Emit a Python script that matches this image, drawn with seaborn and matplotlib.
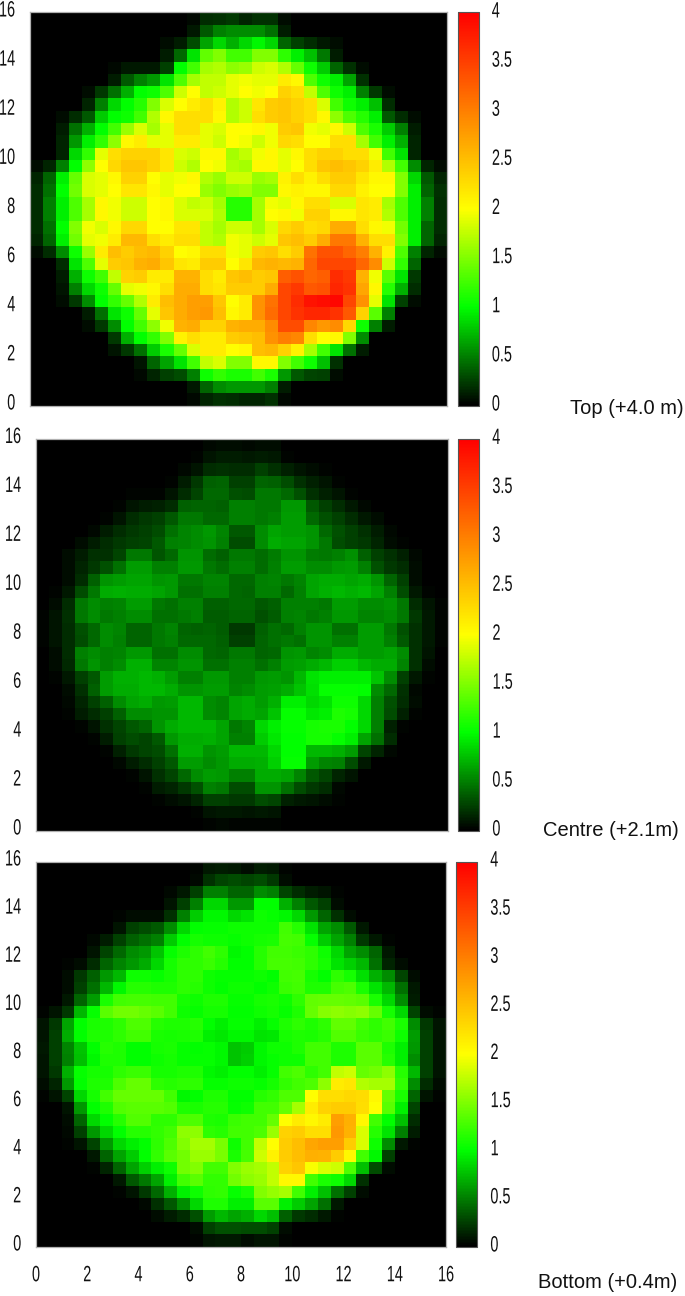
#!/usr/bin/env python3
"""Axial power maps at three core heights, black-green-yellow-red scale."""
import matplotlib
matplotlib.use("Agg")
import matplotlib.pyplot as plt
import numpy as np
import seaborn as sns
from matplotlib.colors import LinearSegmentedColormap
from matplotlib.patheffects import AbstractPathEffect
from matplotlib.transforms import Affine2D, ScaledTranslation

# values in hundredths, first row is the top of the map
top_rows = [
    [0,0,0,0,0,0,0,0,0,0,0,0,4,18,20,22,15,20,20,5,0,0,0,0,0,0,0,0,0,0,0,0],
    [0,0,0,0,0,0,0,0,0,0,0,0,10,35,50,55,55,55,45,12,0,0,0,0,0,0,0,0,0,0,0,0],
    [0,0,0,0,0,0,0,0,0,0,5,12,30,65,85,70,85,98,85,40,25,18,10,5,0,0,0,0,0,0,0,0],
    [0,0,0,0,0,0,0,0,0,0,12,42,90,138,150,125,125,150,150,118,95,75,48,12,0,0,0,0,0,0,0,0],
    [0,0,0,0,0,0,4,10,10,10,25,100,125,165,170,155,160,180,185,170,140,105,80,40,20,5,0,0,0,0,0,0],
    [0,0,0,0,0,0,12,35,50,60,90,130,165,175,175,190,195,190,190,215,205,130,105,95,65,20,0,0,0,0,0,0],
    [0,0,0,0,6,22,45,70,100,105,130,180,200,175,180,190,200,195,200,235,225,175,130,105,95,50,22,6,0,0,0,0],
    [0,0,0,0,15,50,85,100,115,150,185,200,215,225,210,170,180,220,240,245,235,225,185,125,105,95,75,18,0,0,0,0],
    [0,0,6,18,35,80,100,105,125,170,205,225,225,225,205,170,180,225,240,245,235,225,205,155,130,115,95,35,18,6,0,0],
    [0,0,12,45,70,100,125,160,185,165,190,225,225,190,185,200,200,205,195,240,245,195,190,205,180,130,110,80,50,12,0,0],
    [0,0,15,60,95,120,155,205,215,190,190,215,215,190,180,200,195,180,195,230,225,200,200,225,225,165,125,95,70,15,0,0],
    [0,0,15,85,120,190,225,235,235,235,220,185,180,205,205,165,175,195,205,190,205,225,235,235,225,225,195,125,90,15,0,0],
    [5,15,50,100,155,200,230,245,245,235,220,180,170,200,195,170,165,205,205,190,200,225,245,250,245,235,215,170,125,55,15,5],
    [15,40,95,140,185,190,205,235,235,200,190,195,205,170,160,180,180,160,165,210,225,210,225,240,240,220,205,205,150,85,35,15],
    [18,45,100,145,185,190,200,220,220,205,190,200,200,160,150,160,165,150,150,205,210,205,205,230,230,210,200,200,150,95,40,20],
    [18,50,95,130,165,205,195,180,180,200,205,185,175,180,165,115,115,165,195,190,205,225,225,185,185,220,215,165,130,95,50,18],
    [18,50,95,130,165,205,195,180,180,200,205,185,185,185,170,115,115,165,200,205,195,235,235,205,205,220,215,170,130,95,50,18],
    [18,45,100,150,195,185,205,230,230,200,200,220,220,175,165,180,180,165,185,230,240,225,230,265,265,225,205,195,145,95,40,18],
    [15,40,95,145,190,195,215,255,255,225,215,225,225,175,170,195,190,180,190,245,250,240,265,305,305,260,225,225,150,95,40,15],
    [5,18,55,105,160,215,250,240,250,255,235,200,205,225,225,195,190,240,245,225,240,310,335,335,320,300,260,210,130,50,15,5],
    [0,0,18,90,130,190,240,245,260,265,245,220,215,240,240,200,220,255,260,255,260,320,345,345,345,320,290,180,120,40,0,0],
    [0,0,12,70,105,125,175,235,240,215,215,260,260,225,215,245,250,240,245,325,335,320,325,365,355,260,195,135,90,22,0,0],
    [0,0,8,50,85,105,140,190,195,205,225,265,265,225,220,240,240,240,265,345,355,330,335,370,360,270,205,115,70,18,0,0],
    [0,0,6,22,55,100,120,140,170,215,250,265,275,275,245,200,215,285,310,345,365,385,390,395,345,285,190,90,25,6,0,0],
    [0,0,0,0,12,45,90,105,140,190,245,265,275,280,250,205,215,285,315,345,360,370,370,360,330,235,135,50,0,0,0,0],
    [0,0,0,0,6,22,55,100,125,155,195,260,265,235,235,260,265,265,290,340,340,295,280,290,230,105,50,12,0,0,0,0],
    [0,0,0,0,0,0,22,70,100,120,150,210,225,215,215,240,245,250,285,300,295,225,200,205,150,55,0,0,0,0,0,0],
    [0,0,0,0,0,0,8,22,45,80,110,140,185,215,215,200,205,250,255,235,210,165,125,90,45,12,0,0,0,0,0,0],
    [0,0,0,0,0,0,0,0,8,40,65,90,125,175,185,150,150,205,205,150,125,105,75,20,0,0,0,0,0,0,0,0],
    [0,0,0,0,0,0,0,0,4,15,25,30,50,105,120,110,110,125,110,60,35,28,25,5,0,0,0,0,0,0,0,0],
    [0,0,0,0,0,0,0,0,0,0,0,0,10,40,55,60,60,60,50,12,0,0,0,0,0,0,0,0,0,0,0,0],
    [0,0,0,0,0,0,0,0,0,0,0,0,4,15,20,18,15,15,20,4,0,0,0,0,0,0,0,0,0,0,0,0],
]

centre_rows = [
    [0,0,0,0,0,0,0,0,0,0,0,0,0,4,6,5,4,5,5,1,0,0,0,0,0,0,0,0,0,0,0,0],
    [0,0,0,0,0,0,0,0,0,0,0,0,3,8,12,12,10,12,10,3,0,0,0,0,0,0,0,0,0,0,0,0],
    [0,0,0,0,0,0,0,0,0,0,1,4,8,18,20,18,18,25,20,14,8,6,3,0,0,0,0,0,0,0,0,0],
    [0,0,0,0,0,0,0,0,0,0,3,12,22,38,40,25,25,40,38,30,20,14,8,2,0,0,0,0,0,0,0,0],
    [0,0,0,0,0,0,0,2,3,3,8,18,28,42,42,32,30,48,48,42,32,20,14,8,3,0,0,0,0,0,0,0],
    [0,0,0,0,0,0,2,8,12,14,18,38,40,40,38,50,50,48,48,60,60,35,25,18,10,4,0,0,0,0,0,0],
    [0,0,0,0,0,3,8,18,22,25,35,48,48,42,42,50,50,48,50,62,62,42,32,25,18,10,5,1,0,0,0,0],
    [0,0,0,0,4,12,18,22,25,30,45,52,55,60,52,35,35,55,65,62,62,58,42,32,25,20,12,4,0,0,0,0],
    [0,0,1,5,12,18,22,25,28,35,50,52,55,58,50,30,30,55,68,65,65,58,48,30,25,22,15,6,2,0,0,0],
    [0,0,6,12,20,20,28,47,47,33,41,59,59,43,39,47,47,43,49,59,59,49,47,51,57,39,25,20,14,4,0,0],
    [0,0,5,15,22,32,45,62,62,50,50,60,60,47,43,50,50,43,50,62,62,55,55,60,62,50,32,22,18,5,0,0],
    [0,0,5,18,38,58,62,65,65,58,60,48,47,52,52,42,42,50,52,48,52,65,68,68,65,68,58,40,25,6,0,0],
    [0,2,10,30,48,68,70,68,68,65,60,45,45,50,50,42,40,50,50,42,50,65,70,72,70,72,65,50,30,10,3,0],
    [1,5,18,48,55,50,52,62,62,48,45,50,50,38,38,42,42,35,38,50,50,50,48,62,62,55,55,58,48,18,8,2],
    [2,8,20,48,55,48,50,55,55,45,45,48,50,36,36,40,40,32,36,50,52,48,50,60,60,52,52,55,48,22,10,2],
    [2,8,18,32,42,55,52,40,40,48,52,40,38,40,36,22,22,38,45,42,50,58,58,45,45,62,62,48,32,20,10,2],
    [2,8,18,30,42,55,50,40,40,48,50,42,42,42,38,25,25,40,45,48,45,58,58,50,50,62,62,50,35,20,10,2],
    [1,6,18,50,55,50,52,60,60,45,45,55,55,42,40,48,48,40,42,58,60,52,55,68,68,62,62,65,55,20,8,1],
    [0,5,16,48,58,50,55,70,70,52,52,58,58,45,45,50,50,45,50,62,64,68,72,82,82,72,68,68,52,20,6,0],
    [0,2,10,25,35,62,70,70,72,70,62,50,50,60,60,50,50,60,62,58,72,90,95,95,95,95,78,55,25,10,3,0],
    [0,0,6,20,38,62,68,68,72,72,68,58,58,62,62,52,55,62,64,68,78,88,102,102,102,100,55,42,20,4,0,0],
    [0,0,4,15,25,38,55,65,68,60,62,72,72,55,52,65,68,62,70,95,95,85,90,105,105,85,50,32,18,5,0,0],
    [0,0,3,12,18,25,38,55,55,58,58,72,72,55,52,65,68,65,78,102,102,92,95,112,108,85,50,30,14,3,0,0],
    [0,0,0,3,8,20,28,35,40,58,68,72,72,72,65,48,52,85,95,102,102,108,110,110,100,85,50,14,3,0,0,0],
    [0,0,0,0,3,12,25,30,28,35,60,68,68,70,65,50,50,80,92,100,100,108,108,102,95,65,45,18,0,0,0,0],
    [0,0,0,0,0,3,14,22,28,30,45,70,70,58,62,72,72,72,85,100,100,72,72,70,62,28,15,4,0,0,0,0],
    [0,0,0,0,0,0,4,12,18,25,35,62,62,55,60,68,68,70,82,102,102,62,52,50,30,10,0,0,0,0,0,0],
    [0,0,0,0,0,0,0,3,8,20,28,42,55,62,60,50,50,68,68,65,52,35,28,15,8,0,0,0,0,0,0,0],
    [0,0,0,0,0,0,0,0,3,12,15,22,32,50,48,30,30,58,58,45,30,22,18,4,0,0,0,0,0,0,0,0],
    [0,0,0,0,0,0,0,0,0,2,6,8,15,25,25,22,22,30,28,14,10,8,6,2,0,0,0,0,0,0,0,0],
    [0,0,0,0,0,0,0,0,0,0,0,0,2,8,10,10,8,10,8,1,0,0,0,0,0,0,0,0,0,0,0,0],
    [0,0,0,0,0,0,0,0,0,0,0,0,0,3,4,3,2,3,3,1,0,0,0,0,0,0,0,0,0,0,0,0],
]

bottom_rows = [
    [0,0,0,0,0,0,0,0,0,0,0,0,2,10,12,10,6,12,10,3,0,0,0,0,0,0,0,0,0,0,0,0],
    [0,0,0,0,0,0,0,0,0,0,0,0,4,20,28,30,28,30,22,6,0,0,0,0,0,0,0,0,0,0,0,0],
    [0,0,0,0,0,0,0,0,0,0,4,10,25,50,50,40,40,55,50,28,18,12,8,3,0,0,0,0,0,0,0,0],
    [0,0,0,0,0,0,0,0,0,0,8,25,50,85,85,60,60,100,100,70,50,35,25,5,0,0,0,0,0,0,0,0],
    [0,0,0,0,0,0,2,6,6,6,20,50,80,98,98,85,90,105,102,98,85,60,40,20,5,0,0,0,0,0,0,0],
    [0,0,0,0,0,0,8,25,30,35,55,85,100,102,102,105,105,105,105,125,115,90,65,55,35,10,0,0,0,0,0,0],
    [0,0,0,0,4,12,25,38,45,50,80,100,108,105,105,102,105,108,110,128,125,102,80,65,50,22,10,3,0,0,0,0],
    [0,0,0,0,8,28,42,55,60,78,102,112,118,125,118,98,100,115,125,125,122,118,105,85,65,55,40,10,0,0,0,0],
    [0,0,2,6,18,40,52,60,68,85,108,118,118,122,115,100,100,115,128,128,125,118,108,90,82,72,45,15,5,0,0,0],
    [0,0,5,22,38,60,72,105,105,102,108,118,118,105,102,102,102,105,100,125,128,108,100,118,108,88,70,55,28,6,0,0],
    [0,0,6,25,45,72,98,115,115,112,112,118,115,105,100,105,105,100,105,122,125,112,112,128,130,110,90,72,45,10,0,0],
    [0,0,10,40,62,110,125,128,128,125,125,108,105,112,112,102,102,108,110,105,118,138,140,140,138,135,110,85,55,12,0,0],
    [3,8,22,72,102,135,145,145,140,135,125,105,102,108,108,100,100,105,108,102,112,140,152,155,152,155,140,108,85,28,6,3],
    [8,22,65,100,110,112,118,130,130,115,112,112,115,100,95,102,102,95,102,112,118,112,118,138,138,125,118,125,110,55,22,8],
    [8,25,68,100,112,112,118,125,125,110,108,110,112,95,92,98,98,90,92,108,112,110,115,132,132,122,118,122,105,62,25,8],
    [10,25,52,78,100,115,112,100,100,108,110,102,100,102,98,78,80,98,105,105,112,125,125,112,112,135,135,112,95,60,25,8],
    [8,25,50,75,98,112,112,100,100,105,108,102,102,102,98,78,82,98,102,105,105,125,125,112,112,135,135,115,95,55,25,8],
    [8,22,70,102,108,108,118,122,122,108,108,112,112,98,95,100,100,95,102,125,130,118,125,175,180,140,145,155,115,72,25,8],
    [5,15,60,100,112,112,130,140,140,118,115,118,118,102,102,105,105,102,108,120,125,130,155,215,220,170,165,165,120,55,18,5],
    [2,8,28,85,108,125,140,140,140,140,125,98,100,112,112,100,100,115,120,130,130,200,225,225,230,228,205,140,110,40,8,2],
    [0,0,8,60,100,112,132,135,135,135,132,112,110,115,115,102,105,125,125,140,165,215,235,240,240,225,200,135,95,28,0,0],
    [0,0,6,40,85,100,115,132,132,118,118,130,130,112,110,122,125,125,140,200,215,205,215,275,262,205,125,100,75,18,0,0],
    [0,0,4,25,60,85,100,115,115,120,125,155,155,118,115,125,125,130,160,235,240,225,225,280,260,185,115,90,50,12,0,0],
    [0,0,2,8,28,60,85,95,100,118,130,150,165,165,148,105,125,175,200,240,250,270,275,275,240,185,105,55,10,3,0,0],
    [0,0,0,0,10,40,65,80,100,120,135,145,160,160,148,110,128,180,210,240,250,262,260,240,205,125,98,25,0,0,0,0],
    [0,0,0,0,3,15,40,65,82,95,105,145,150,125,125,150,160,165,175,235,245,198,185,180,130,75,30,5,0,0,0,0],
    [0,0,0,0,0,0,10,35,48,65,95,125,135,120,120,145,155,160,175,205,205,125,110,105,85,20,0,0,0,0,0,0],
    [0,0,0,0,0,0,3,8,22,42,70,95,105,118,120,102,110,150,158,165,125,95,75,45,25,6,0,0,0,0,0,0],
    [0,0,0,0,0,0,0,0,4,20,35,55,85,112,112,95,95,135,135,95,80,65,45,10,0,0,0,0,0,0,0,0],
    [0,0,0,0,0,0,0,0,1,6,12,18,32,62,72,65,70,85,75,38,22,18,10,3,0,0,0,0,0,0,0,0],
    [0,0,0,0,0,0,0,0,0,0,0,0,6,25,32,32,30,30,25,6,0,0,0,0,0,0,0,0,0,0,0,0],
    [0,0,0,0,0,0,0,0,0,0,0,0,2,8,10,10,6,8,8,2,0,0,0,0,0,0,0,0,0,0,0,0],
]

axis_labels = ["0", "2", "4", "6", "8", "10", "12", "14", "16"]
cbar_values = [0, 0.5, 1, 1.5, 2, 2.5, 3, 3.5, 4]
cbar_labels = ["0", "0.5", "1", "1.5", "2", "2.5", "3", "3.5", "4"]

W, H = 685, 1296
FRAME = "#b0b0b0"
TICK_FONT = 16
NARROW = 0.65

sns.set_style("white")
plt.rcParams["font.family"] = ["Liberation Sans", "DejaVu Sans"]

heat_cmap = LinearSegmentedColormap.from_list(
    "blgyr",
    [(0, "#000000"), (0.25, "#00ff00"), (0.5, "#ffff00"), (1, "#ff0000")],
    N=256,
)


class Squeeze(AbstractPathEffect):
    """Narrow the glyphs of a text, the tick labels in the original are condensed."""

    def __init__(self, sx, anchor, dx=0):
        super().__init__()
        self.sx = sx
        self.anchor = anchor
        self.dx = dx

    def draw_path(self, renderer, gc, tpath, affine, rgbFace=None):
        x0, _, x1, _ = tpath.get_extents().extents
        cx = {"left": x0, "right": x1, "center": (x0 + x1) / 2}[self.anchor]
        squeeze = Affine2D().translate(-cx, 0).scale(self.sx, 1).translate(cx, 0)
        renderer.draw_path(gc, tpath, squeeze + affine + Affine2D().translate(self.dx, 0), rgbFace)


def box(left, top, right, bottom):
    return [left / W, 1 - bottom / H, (right - left) / W, (bottom - top) / H]


def style_labels(fig, labels, up, anchor, dx=0):
    shift = ScaledTranslation(0, up / fig.dpi, fig.dpi_scale_trans)
    for lab in labels:
        lab.set_transform(lab.get_transform() + shift)
        lab.set_path_effects([Squeeze(NARROW, anchor, dx)])


def draw_panel(fig, rows, pos, cpos, show_x):
    ax = fig.add_axes(box(*pos))
    cax = fig.add_axes(box(*cpos))
    sns.heatmap(
        np.array(rows) / 100,
        ax=ax, cbar_ax=cax, cmap=heat_cmap, vmin=0, vmax=4,
        xticklabels=False, yticklabels=False,
        cbar_kws={"ticks": cbar_values},
    )
    n = len(rows)
    ticks = np.linspace(0, n, len(axis_labels))
    ax.set_yticks(ticks)
    ax.set_yticklabels(axis_labels[::-1], fontsize=TICK_FONT)
    # small pad, the glyphs get moved left afterwards
    ax.tick_params(axis="y", length=3, width=0.7, direction="in", pad=3.2,
                   color="#333333", labelcolor="#111111", left=True)
    if show_x:
        ax.set_xticks(ticks)
        ax.set_xticklabels(axis_labels, fontsize=TICK_FONT, rotation=0)
        ax.tick_params(axis="x", length=3, width=0.7, direction="in", pad=13.5,
                       color="#333333", labelcolor="#111111", bottom=True)
        style_labels(fig, ax.get_xticklabels(), 0, "center")
    for s in ax.spines.values():
        s.set_visible(True)
        s.set_color(FRAME)
        s.set_linewidth(0.9)
    style_labels(fig, ax.get_yticklabels(), 4, "right", -10)

    cb = ax.collections[0].colorbar
    cb.set_ticklabels(cbar_labels, fontsize=TICK_FONT)
    cb.outline.set_visible(True)
    cb.outline.set_edgecolor("#555555")
    cb.outline.set_linewidth(0.8)
    cax.tick_params(axis="y", left=True, right=True, direction="in", length=3,
                    width=0.7, pad=9.4, color="#222222", labelcolor="#111111")
    style_labels(fig, cax.get_yticklabels(), 3, "left")


fig = plt.figure(figsize=(W / 100, H / 100), dpi=100, facecolor="white")

draw_panel(fig, top_rows, (30, 12.5, 447.5, 405.5), (457.5, 12.5, 478.5, 405.5), False)
draw_panel(fig, centre_rows, (36, 439, 448, 830.5), (458, 439, 479, 830.5), False)
draw_panel(fig, bottom_rows, (36, 861.5, 446, 1246.5), (456, 861.5, 477, 1246.5), True)

fig.text(684 / W, 1 - 408 / H, "Top (+4.0 m)", ha="right", va="center", fontsize=14.5, color="#111111")
fig.text(679 / W, 1 - 830 / H, "Centre (+2.1m)", ha="right", va="center", fontsize=14.5, color="#111111")
fig.text(677 / W, 1 - 1283 / H, "Bottom (+0.4m)", ha="right", va="center", fontsize=14.5, color="#111111")

fig.savefig("out.png", dpi=100)
plt.close(fig)
